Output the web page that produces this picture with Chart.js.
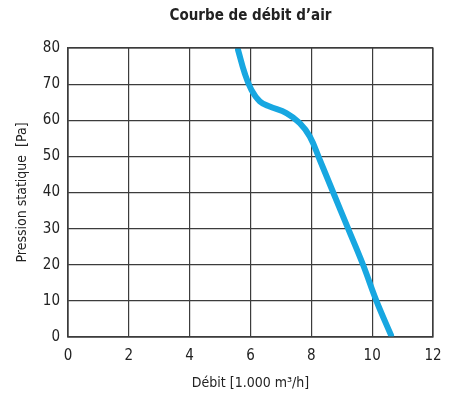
<!DOCTYPE html>
<html>
<head>
<meta charset="utf-8">
<script src="https://cdn.jsdelivr.net/npm/chart.js@4.4.0/dist/chart.umd.min.js"></script>
<style>
html,body{margin:0;padding:0;background:#fff;}
#wrap{width:454px;height:403px;}
</style>
</head>
<body>
<div id="wrap"><canvas id="c" width="454" height="403"></canvas></div>
<script>
const flowValues = [5.59, 5.81, 6.03, 6.31, 6.63, 7.18, 7.62, 7.95, 8.28, 8.72, 9.21, 9.70, 10.14, 10.62];
const pressureValues = [79.5, 73.0, 68.4, 65.2, 63.8, 62.0, 59.2, 55.5, 49.0, 40, 30, 20, 10, 0.5];
const xTicks = [0, 2, 4, 6, 8, 10, 12];
const yTicks = [0, 10, 20, 30, 40, 50, 60, 70, 80];
const titleText = "Courbe de débit d\u2019air";
const xTitle = "Débit [1.000 m\u00b3/h]";
const yTitle = "Pression statique  [Pa]";

const FONT = "'DejaVu Sans Condensed', 'Liberation Sans', sans-serif";
const points = flowValues.map((x, i) => ({x: x, y: pressureValues[i]}));

new Chart(document.getElementById('c'), {
  type: 'scatter',
  data: {
    datasets: [{
      data: points,
      showLine: true,
      borderColor: '#17a7e1',
      borderWidth: 6,
      borderCapStyle: 'round',
      pointRadius: 0,
      tension: 0.4,
      fill: false
    }]
  },
  options: {
    responsive: false,
    animation: false,
    layout: {padding: {left: 0, right: 21, top: 0, bottom: 0}},
    plugins: {
      legend: {display: false},
      tooltip: {enabled: false},
      title: {
        display: true,
        fullSize: false,
        text: titleText,
        color: '#222',
        font: {family: FONT, size: 15, weight: 'bold'},
        padding: {top: 7, bottom: 23}
      }
    },
    scales: {
      x: {
        type: 'linear',
        min: 0, max: 12,
        afterBuildTicks: s => { s.ticks = xTicks.map(v => ({value: v})); },
        ticks: {color: '#222', font: {family: FONT, size: 15}, padding: 10, maxRotation: 0},
        grid: {color: '#3c3c3c', lineWidth: 1.2, drawTicks: false},
        border: {color: '#3c3c3c', width: 1.2},
        title: {display: true, text: xTitle, color: '#222', font: {family: FONT, size: 14}, padding: {top: 4, bottom: 11}},
        afterFit: s => { s.height = 66; }
      },
      y: {
        type: 'linear',
        min: 0, max: 80,
        afterBuildTicks: s => { s.ticks = yTicks.map(v => ({value: v})); },
        ticks: {color: '#222', font: {family: FONT, size: 15}, padding: 8},
        grid: {color: '#3c3c3c', lineWidth: 1.2, drawTicks: false},
        border: {color: '#3c3c3c', width: 1.2},
        title: {display: true, text: yTitle, color: '#222', font: {family: FONT, size: 14}, padding: {top: 14, bottom: 0}},
        afterFit: s => { s.width = 68; }
      }
    }
  },
  plugins: [{
    id: 'frame',
    afterDraw(chart) {
      const a = chart.chartArea, ctx = chart.ctx;
      ctx.save();
      ctx.strokeStyle = '#3c3c3c';
      ctx.lineWidth = 1.2;
      ctx.strokeRect(a.left, a.top, a.right - a.left, a.bottom - a.top);
      ctx.restore();
    }
  }]
});
</script>
</body>
</html>
